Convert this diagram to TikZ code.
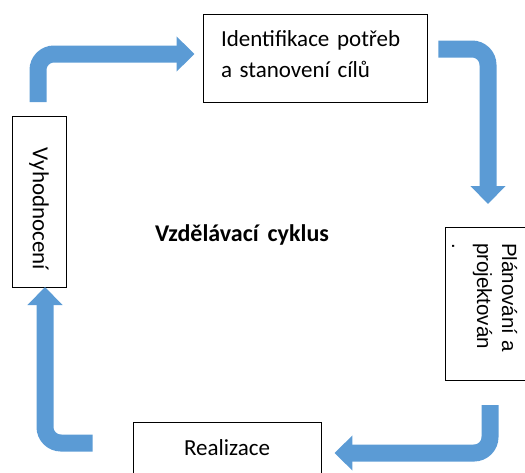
\documentclass[tikz,border=0pt]{standalone}
\usepackage{fontspec}
\setmainfont{Carlito}
\newfontfamily\arialfont{Liberation Sans}
\usetikzlibrary{arrows.meta}
\definecolor{arrowblue}{HTML}{5B9BD5}
\newcommand\colorCycle{arrowblue}

\begin{document}
\begin{tikzpicture}[x=1pt,y=-1pt,
		box/.style={draw=black, line width=0.9pt, inner sep=0pt, fill=white},
		cyc/.style={line width=17pt, draw=\colorCycle, rounded corners=16pt, -{Triangle[width=34pt,length=18pt]}},
		every node/.style={font=\fontsize{23}{31}\selectfont}]
		\useasboundingbox (0,0) rectangle (525,472);

		% boxes of the cycle
		\node[box, minimum width=224pt, minimum height=88pt, text width=188pt, align=left,
			text height=32pt, text depth=56pt] (ident) at (315,58) {Identifikace potřeb\\a stanovení cílů};
		\node[box, rotate=-90, minimum width=153pt, minimum height=95pt, text width=121pt, align=left,
			text height=38pt, text depth=57pt, font=\arialfont\fontsize{20.5}{25}\selectfont] (plan) at (492.5,303.5) {Plánování a\\projektován\\.};
		\node[box, minimum width=188pt, minimum height=54pt, text height=33pt, text depth=21pt] (real) at (227,449) {Realizace};
		\node[box, rotate=-90, minimum width=171pt, minimum height=54pt] (vyh) at (39,201.5) {\hspace*{15pt}Vyhodnocení};

		\node[anchor=base west, inner sep=0pt, font=\fontsize{24}{31}\selectfont\bfseries] (title) at (155,241) {Vzdělávací\hspace{9pt}cyklus};

		% arrows
		\coordinate (a1) at (38,102);
		\coordinate (a2) at (488,204);
		\coordinate (a3) at (490,405);
		\coordinate (a4) at (45,287);

		\draw[cyc] (a1) |- ([xshift=-8pt,yshift=4pt]ident.west);
		\draw[cyc] ([xshift=11pt,yshift=9pt]ident.east) -| (a2);
		\draw[cyc] (a3) |- ([xshift=13pt,yshift=-4pt]real.east);
		\draw[cyc] ([xshift=-40pt,yshift=6pt]real.west) -| (a4);
	\end{tikzpicture}
\end{document}
